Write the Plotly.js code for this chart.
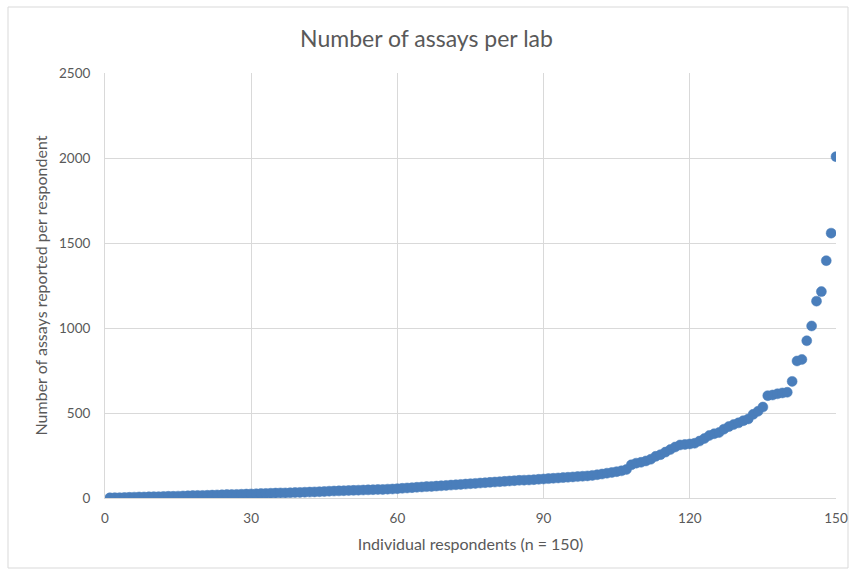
<!DOCTYPE html>
<html>
<head>
<meta charset="utf-8">
<script src="https://cdn.plot.ly/plotly-3.0.1.min.js"></script>
<style>html,body{margin:0;padding:0;background:#fff;}#chart{width:853px;height:574px;}</style>
</head>
<body>
<div id="chart"></div>
<script>
const chartTitle = "Number of assays per lab";
const xAxisTitle = "Individual respondents (n = 150)";
const yAxisTitle = "Number of assays reported per respondent";
const xTickVals = [0, 30, 60, 90, 120, 150];
const yTickVals = [0, 500, 1000, 1500, 2000, 2500];

// respondent index 1..150
const respondents = [];
for (let i = 1; i <= 150; i++) respondents.push(i);

// assays per respondent, sorted ascending
const assays = [
  1, 2, 2, 3, 4, 5, 6, 6, 7, 8,
  8, 9, 10, 10, 11, 12, 13, 14, 15, 15,
  16, 17, 18, 19, 20, 20, 21, 22, 23, 24,
  25, 26, 27, 28, 29, 30, 30, 31, 32, 33,
  34, 35, 36, 37, 38, 40, 41, 42, 43, 44,
  45, 46, 47, 48, 49, 50, 50, 52, 53, 55,
  57, 59, 61, 63, 65, 67, 68, 70, 72, 74,
  76, 78, 80, 82, 84, 86, 88, 90, 92, 94,
  96, 98, 100, 102, 104, 105, 106, 108, 110, 112,
  114, 116, 118, 120, 122, 124, 126, 128, 130, 133,
  137, 141, 146, 150, 155, 160, 168, 195, 205, 210,
  218, 228, 245, 255, 270, 285, 300, 312, 315, 318,
  322, 335, 350, 368, 378, 385, 405, 420, 432, 442,
  455, 465, 492, 510, 535, 602, 606, 613, 618, 622,
  686, 806, 815, 925, 1012, 1158, 1214, 1396, 1558, 2008
];

const font = "Lato, 'Open Sans', sans-serif";
const textColor = "#595959";

const trace = {
  type: "scatter",
  mode: "markers",
  x: respondents,
  y: assays,
  marker: {color: "#4a7ebb", size: 10, line: {color: "#4a7ebb", width: 0.5}},
  hoverinfo: "x+y"
};

const layout = {
  width: 853,
  height: 574,
  margin: {l: 105, r: 17, t: 73, b: 76},
  paper_bgcolor: "#ffffff",
  plot_bgcolor: "#ffffff",
  showlegend: false,
  font: {family: font, color: textColor},
  title: {
    text: chartTitle,
    font: {family: font, size: 23, color: textColor},
    x: 0.5, xanchor: "center",
    y: 0.933, yanchor: "middle"
  },
  xaxis: {
    range: [0, 150],
    tickvals: xTickVals,
    ticktext: xTickVals.map(String),
    showgrid: true,
    gridcolor: "#d9d9d9",
    gridwidth: 1,
    zeroline: false,
    showline: true,
    linecolor: "#d9d9d9",
    linewidth: 1,
    ticks: "",
    ticklabelstandoff: 8,
    tickfont: {family: font, size: 13.5, color: textColor},
    title: {text: xAxisTitle, font: {family: font, size: 16, color: textColor}, standoff: 13},
    fixedrange: true
  },
  yaxis: {
    range: [0, 2500],
    tickvals: yTickVals,
    ticktext: yTickVals.map(String),
    showgrid: true,
    gridcolor: "#d9d9d9",
    gridwidth: 1,
    zeroline: false,
    showline: true,
    linecolor: "#d9d9d9",
    linewidth: 1,
    ticks: "",
    ticklabelstandoff: 11,
    tickfont: {family: font, size: 13.5, color: textColor},
    title: {text: yAxisTitle, font: {family: font, size: 16, color: textColor}, standoff: 7},
    fixedrange: true
  },
  shapes: [{
    type: "rect", xref: "paper", yref: "paper",
    x0: -97/731, x1: 1 + 12/731, y0: -70/425, y1: 1 + 66/425,
    line: {color: "#d9d9d9", width: 1}, fillcolor: "rgba(0,0,0,0)", layer: "below"
  }]
};

Plotly.newPlot("chart", [trace], layout, {displayModeBar: false, staticPlot: true});
</script>
</body>
</html>
